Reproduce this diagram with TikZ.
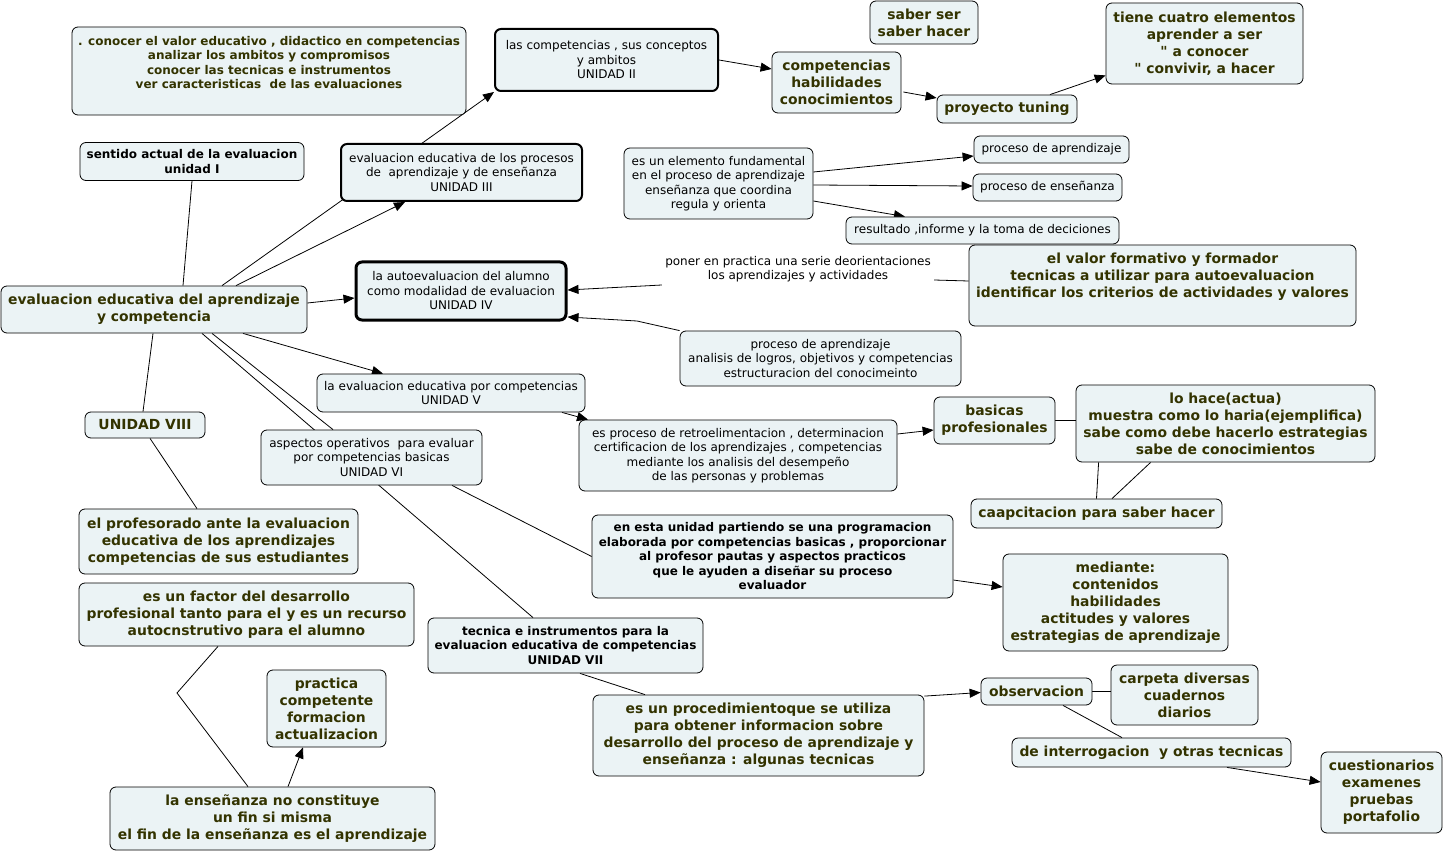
\documentclass[tikz,border=0pt]{standalone}
\usepackage{fontspec}
\setmainfont{DejaVu Sans}
\newfontfamily\qfont{DejaVu Sans}
\usetikzlibrary{arrows.meta,backgrounds}
\definecolor{boxfill}{RGB}{235,243,245}
\definecolor{olivetext}{RGB}{51,51,0}
\begin{document}
\begin{tikzpicture}[x=1pt,y=-1pt,
  box/.style={draw=black, rounded corners=6pt, fill=boxfill, line width=0.8pt, inner sep=0pt, align=center},
  nt/.style={font=\fontsize{12}{14.5}\selectfont, text=black},
  bk/.style={font=\fontsize{12}{14.5}\selectfont\bfseries, text=black},
  bo/.style={font=\fontsize{12}{14.6}\selectfont\bfseries, text=olivetext},
  bl/.style={font=\fontsize{13.9}{17}\selectfont\bfseries, text=olivetext},
  arr/.style={-{Triangle[length=11pt,width=9pt]}, line width=0.8pt},
  ln/.style={line width=0.8pt},
  thk/.style={line width=2pt},
  thkk/.style={line width=3pt}
]
\useasboundingbox (0,0) rectangle (1446,853);

\node[box, minimum width=394pt, minimum height=88pt] (conocer) at (269,71) {};
\node[bo, align=center] (conocerT) at (269,62.5) {. conocer el valor educativo , didactico en competencias\\analizar los ambitos y compromisos\\conocer las tecnicas e instrumentos\\ver caracteristicas~ de las evaluaciones};
\node[box, bk, minimum width=224pt, minimum height=38pt] (sentido) at (192,161.5) {sentido actual de la evaluacion\\unidad I};
\node[box, nt, thk, minimum width=241pt, minimum height=57pt] (unidadIII) at (461.5,172.5) {evaluacion educativa de los procesos\\de~ aprendizaje y de enseñanza\\UNIDAD III};
\node[box, nt, thk, minimum width=223pt, minimum height=62pt] (unidadII) at (606.5,60) {las competencias , sus conceptos\\y ambitos\\UNIDAD II};
\node[box, bl, minimum width=129pt, minimum height=61pt] (comp) at (836.5,82.5) {competencias\\habilidades\\conocimientos};
\node[box, bl, minimum width=108pt, minimum height=43pt] (saber) at (924,22.5) {saber ser\\saber hacer};
\node[box, bl, minimum width=140pt, minimum height=28pt] (tuning) at (1007,109) {proyecto tuning};
\node[box, bl, minimum width=197pt, minimum height=81pt] (cuatro) at (1204.5,43.5) {tiene cuatro elementos\\aprender a ser\\{\qfont "} a conocer\\{\qfont "} convivir, a hacer};
\node[box, nt, minimum width=189pt, minimum height=71pt] (elemento) at (718.5,183.5) {es un elemento fundamental\\en el proceso de aprendizaje\\enseñanza que coordina\\regula y orienta};
\node[box, nt, minimum width=155pt, minimum height=27pt] (procA) at (1051.5,149.5) {proceso de aprendizaje};
\node[box, nt, minimum width=149pt, minimum height=27pt] (procE) at (1047.5,187.5) {proceso de enseñanza};
\node[box, nt, minimum width=273pt, minimum height=27pt] (resultado) at (982.5,230.5) {resultado ,informe y la toma de deciciones};
\node[nt, align=center, inner sep=0pt, minimum width=272pt, minimum height=40pt] (poner) at (798,269) {poner en practica una serie deorientaciones\\los aprendizajes y actividades};
\node[box, nt, thkk, minimum width=210pt, minimum height=58pt] (autoeval) at (461,291) {la autoevaluacion del alumno\\como modalidad de evaluacion\\UNIDAD IV};
\node[box, minimum width=387pt, minimum height=81pt] (valor) at (1162.5,285.5) {};
\node[bl, align=center] (valorT) at (1162.5,276.5) {el valor formativo y formador\\tecnicas a utilizar para autoevaluacion\\identificar los criterios de actividades y valores};
\node[box, nt, minimum width=281pt, minimum height=55pt] (procesoap) at (820.5,358.5) {proceso de aprendizaje\\analisis de logros, objetivos y competencias\\estructuracion del conocimeinto};
\node[box, bl, minimum width=306pt, minimum height=47pt] (main) at (154,309.5) {evaluacion educativa del aprendizaje\\y competencia};
\node[box, nt, minimum width=268pt, minimum height=38pt] (unidadV) at (451,393) {la evaluacion educativa por competencias\\UNIDAD V};
\node[box, bl, minimum width=120pt, minimum height=26pt] (unidadVIII) at (145,425) {UNIDAD VIII};
\node[box, nt, minimum width=221pt, minimum height=55pt] (unidadVI) at (371.5,457.5) {aspectos operativos~ para evaluar\\por competencias basicas\\UNIDAD VI};
\node[box, nt, minimum width=318pt, minimum height=71pt] (retro) at (738,455.5) {es proceso de retroelimentacion , determinacion\\certificacion de los aprendizajes , competencias\\mediante los analisis del desempeño\\de las personas y problemas};
\node[box, bl, minimum width=121pt, minimum height=47pt] (basicas) at (994.5,420.5) {basicas\\profesionales};
\node[box, bl, minimum width=299pt, minimum height=77pt] (lohace) at (1225.5,423.5) {lo hace(actua)\\muestra como lo haria(ejemplifica)\\sabe como debe hacerlo estrategias\\sabe de conocimientos};
\node[box, bl, minimum width=251pt, minimum height=29pt] (caapcitacion) at (1096.5,513.5) {caapcitacion para saber hacer};
\node[box, bl, minimum width=279pt, minimum height=65pt] (profesorado) at (218.5,541.5) {el profesorado ante la evaluacion\\educativa de los aprendizajes\\competencias de sus estudiantes};
\node[box, bk, minimum width=361pt, minimum height=83pt] (enesta) at (772.5,556.5) {en esta unidad partiendo se una programacion\\elaborada por competencias basicas , proporcionar\\al profesor pautas y aspectos practicos\\que le ayuden a diseñar su proceso\\evaluador};
\node[box, bl, minimum width=225pt, minimum height=97pt] (mediante) at (1115.5,602.5) {mediante:\\contenidos\\habilidades\\actitudes y valores\\estrategias de aprendizaje};
\node[box, bl, minimum width=335pt, minimum height=63pt] (factor) at (246.5,614.5) {es un factor del desarrollo\\profesional tanto para el y es un recurso\\autocnstrutivo para el alumno};
\node[box, bk, minimum width=275pt, minimum height=55pt] (tecnica) at (565.5,645.5) {tecnica e instrumentos para la\\evaluacion educativa de competencias\\UNIDAD VII};
\node[box, bl, minimum width=119pt, minimum height=77pt] (practica) at (326.5,708.5) {practica\\competente\\formacion\\actualizacion};
\node[box, bl, minimum width=331pt, minimum height=81pt] (procedimiento) at (758.5,735.5) {es un procedimientoque se utiliza\\para obtener informacion sobre\\desarrollo del proceso de aprendizaje y\\enseñanza : algunas tecnicas};
\node[box, bl, minimum width=111pt, minimum height=27pt] (observacion) at (1036.5,691.5) {observacion};
\node[box, bl, minimum width=147pt, minimum height=60pt] (carpeta) at (1184.5,695) {carpeta diversas\\cuadernos\\diarios};
\node[box, bl, minimum width=279pt, minimum height=29pt] (interrogacion) at (1151.5,752.5) {de interrogacion~ y otras tecnicas};
\node[box, bl, minimum width=121pt, minimum height=81pt] (cuestionarios) at (1381.5,792.5) {cuestionarios\\examenes\\pruebas\\portafolio};
\node[box, bl, minimum width=325pt, minimum height=63pt] (ensenanza) at (272.5,818.5) {la enseñanza no constituye\\un fin si misma\\el fin de la enseñanza es el aprendizaje};

\begin{pgfonlayer}{background}
\fill[white] (0,0) rectangle (1446,853);
\draw[arr] ([shift={(68,0)}]main.north) -- (unidadII.south west);
\draw[arr] ([shift={(82,0)}]main.north) -- ([shift={(-56.5,0)}]unidadIII.south);
\draw[ln] (sentido.south) -- ([shift={(29,0)}]main.north);
\draw[arr] ([shift={(0,-6.5)}]main.east) -- ([shift={(0,7)}]autoeval.west);
\draw[arr] ([shift={(89,0)}]main.south) -- ([shift={(-68,0)}]unidadV.north);
\draw[ln] ([shift={(-1,0)}]main.south) -- ([shift={(-2,0)}]unidadVIII.north);
\draw[ln] ([shift={(48,0)}]main.south) -- ([shift={(-32.5,0)}]tecnica.north);
\draw[ln] ([shift={(58,0)}]main.south) -- ([shift={(-38.5,0)}]unidadVI.north);
\draw[ln] ([shift={(80.5,0)}]unidadVI.south) -- (enesta.west);
\draw[arr] ([shift={(111,0)}]unidadV.south) -- ([shift={(-150,0)}]retro.north);
\draw[arr] ([shift={(0,-21.5)}]retro.east) -- ([shift={(0,9.5)}]basicas.west);
\draw[ln] (basicas.east) -- (basicas.east -| lohace.west);
\draw[ln] ([shift={(23,0)}]lohace.south west) -- (caapcitacion.north);
\draw[ln] ([shift={(75,0)}]lohace.south west) -- ([shift={(15.5,0)}]caapcitacion.north);
\draw[arr] ([shift={(0,23.5)}]enesta.east) -- ([shift={(0,-15.5)}]mediante.west);
\draw[arr] (unidadII.east) -- ([shift={(0,-13.5)}]comp.west);
\draw[arr] ([shift={(2,9.5)}]comp.east) -- ([shift={(0,-11)}]tuning.west);
\draw[arr] ([shift={(43,0)}]tuning.north) -- ([shift={(0,-9)}]cuatro.south west);
\draw[arr] ([shift={(0,-11.5)}]elemento.east) -- ([shift={(0,6.5)}]procA.west);
\draw[arr] ([shift={(0,1.5)}]elemento.east) -- ([shift={(0,-1.5)}]procE.west);
\draw[arr] ([shift={(0,17.5)}]elemento.east) -- ([shift={(-77.5,0)}]resultado.north);
\draw[ln] ([shift={(0,-4.5)}]valor.west) -- ([shift={(0,11)}]poner.east);
\draw[arr] ([shift={(0,16)}]poner.west) -- ([shift={(0,-1)}]autoeval.east);
\coordinate (k1) at (637,321);
\draw[arr] (procesoap.north west) -- (k1) -- ([shift={(0,26)}]autoeval.east);
\draw[arr] ([shift={(0,1.5)}]procedimiento.north east) -- ([shift={(0,1)}]observacion.west);
\draw[ln] ([shift={(14.5,0)}]tecnica.south) -- ([shift={(-113.5,0)}]procedimiento.north);
\draw[ln] (observacion.east) -- (observacion.east -| carpeta.west);
\draw[ln] ([shift={(26.5,0)}]observacion.south) -- ([shift={(-29.5,0)}]interrogacion.north);
\draw[arr] ([shift={(75.5,0)}]interrogacion.south) -- ([shift={(0,-10.5)}]cuestionarios.west);
\draw[ln] ([shift={(5,0)}]unidadVIII.south) -- ([shift={(-21.5,0)}]profesorado.north);
\coordinate (k2) at (177,693);
\draw[ln] ([shift={(-28.5,0)}]factor.south) -- (k2) -- ([shift={(-24.5,0)}]ensenanza.north);
\draw[arr] ([shift={(15.5,0)}]ensenanza.north) -- ([shift={(-23.5,0)}]practica.south);
\end{pgfonlayer}
\end{tikzpicture}
\end{document}
